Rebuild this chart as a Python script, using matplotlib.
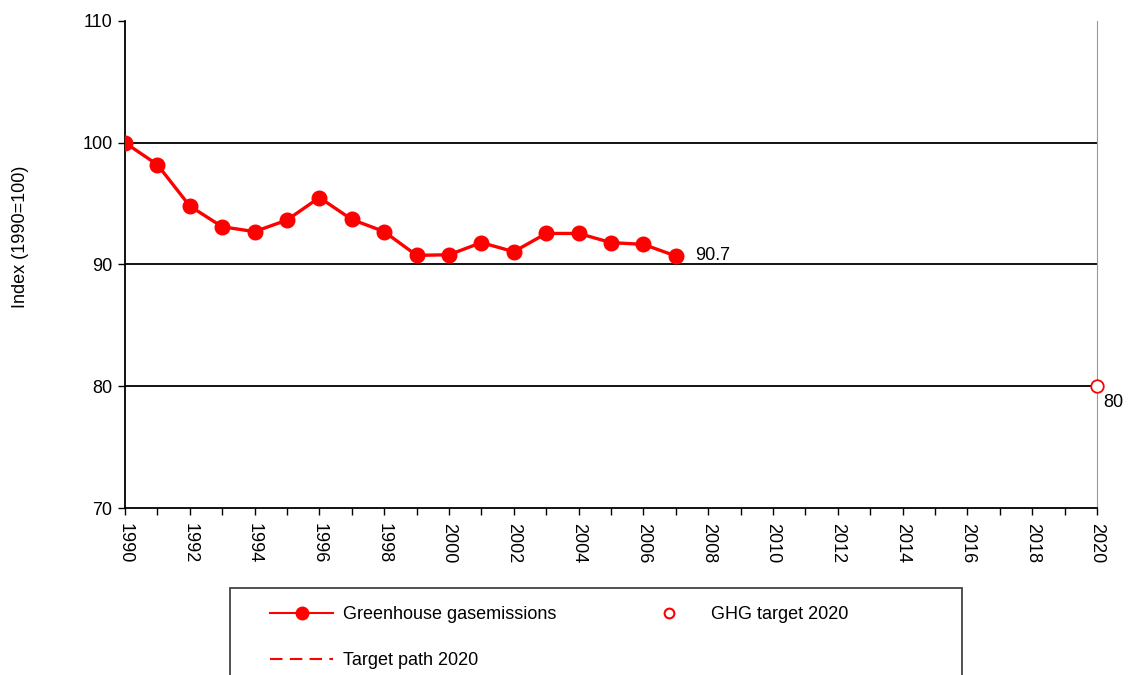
import numpy as np
import matplotlib.pyplot as plt
from matplotlib.lines import Line2D
from matplotlib.patches import Rectangle

plt.rcParams['font.family'] = ['Liberation Sans', 'DejaVu Sans']

years = list(range(1990, 2008))
emissions = [100.0, 98.2, 94.8, 93.1, 92.7, 93.65, 95.5, 93.7, 92.7, 90.75,
             90.8, 91.8, 91.05, 92.55, 92.55, 91.8, 91.65, 90.7]
target_year = 2020
target_value = 80
target_path_years = []
target_path_values = []

red = '#ff0000'
W, H = 1129, 675

fig = plt.figure(figsize=(W / 100, H / 100), dpi=100)
ax = fig.add_axes([0.1107, 0.2474, 0.8610, 0.7215])

ax.plot(years, emissions, color=red, lw=2.4, marker='o', ms=10.5,
        solid_joinstyle='round', zorder=3)
ax.plot(target_path_years, target_path_values, color=red, lw=1.5, ls='--')
ax.plot([target_year], [target_value], 'o', ms=9, mfc='white', mec=red,
        mew=1.3, clip_on=False, zorder=4)

ax.text(years[-1] + 0.6, emissions[-1], '90.7', fontsize=13, va='center', ha='left')
ax.text(target_year + 0.2, target_value - 0.6, '80', fontsize=13, va='top', ha='left')

ax.set_xlim(1990, 2020)
ax.set_ylim(70, 110)
ax.set_xticks(range(1990, 2021))
ax.set_xticklabels([str(y) if y % 2 == 0 else '' for y in range(1990, 2021)],
                   rotation=270, fontsize=13)
ax.set_yticks([70, 80, 90, 100, 110])
ax.tick_params(axis='y', labelsize=13, length=5, width=1, direction='out', pad=4)
ax.tick_params(axis='x', length=5, width=1, direction='out', pad=6)
for y in [80, 90, 100]:
    ax.axhline(y, color='black', lw=1.3, zorder=1)

fig.text(21 / W, 1 - 237 / H, 'Index (1990=100)', rotation=90, fontsize=13,
         ha='center', va='center')

ax.spines['top'].set_visible(False)
ax.spines['right'].set_color('#999999')
ax.spines['left'].set_linewidth(1.3)
ax.spines['bottom'].set_linewidth(1.3)

# legend box (runs off the bottom of the figure)
fig.patches.append(Rectangle((230 / W, -0.05), (962 - 230) / W, 0.05 + 1 - 588 / H,
                             transform=fig.transFigure, fill=False,
                             edgecolor='#333333', lw=1.2))

handles = [
    Line2D([], [], color=red, lw=1.5, marker='o', ms=9),
    Line2D([], [], color=red, lw=1.5, ls=(0, (6, 3.5))),
    Line2D([], [], color=red, ls='none', marker='o', ms=7, mfc='white', mew=1.5),
]
labels = ['Greenhouse gasemissions', 'Target path 2020', 'GHG target 2020']
leg = fig.legend(handles, labels, ncol=2, loc='upper left',
                 bbox_to_anchor=(270 / W, 1 - 606 / H),
                 fontsize=13, frameon=False, borderpad=0, borderaxespad=0,
                 handlelength=3.5, labelspacing=1.6, handletextpad=0.55,
                 columnspacing=4.5)

fig.savefig('out.png', dpi=100)
